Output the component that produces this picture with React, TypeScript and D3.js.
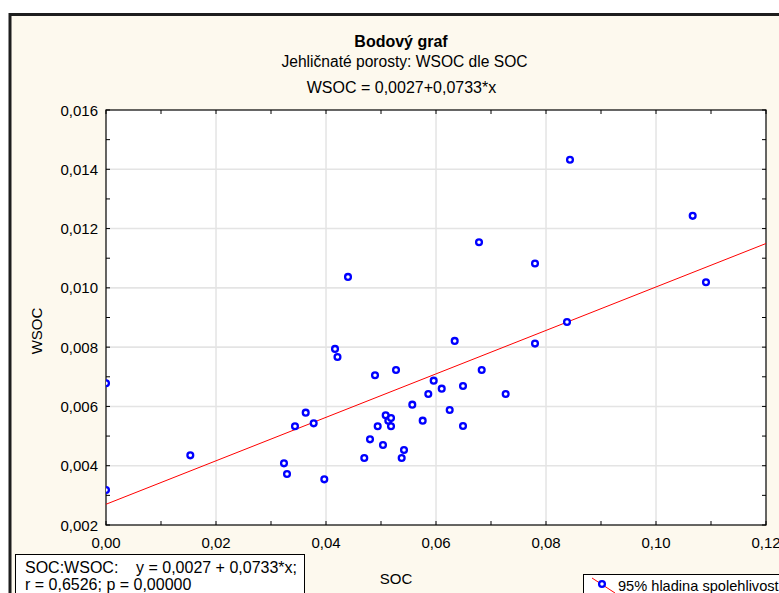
import React from "react";
import * as d3 from "d3";

const socValues: number[] = [
  0, 0, 0.01533, 0.03236, 0.03291, 0.03436, 0.03631, 0.03776, 0.03969, 0.04164,
  0.04209, 0.044, 0.04696, 0.048, 0.04891, 0.0494, 0.05036, 0.05085, 0.05133, 0.05182,
  0.05182, 0.05273, 0.05376, 0.05418, 0.05569, 0.05758, 0.0586, 0.05958, 0.06104, 0.06249,
  0.0634, 0.06491, 0.06491, 0.06782, 0.06831, 0.07267, 0.078, 0.078, 0.08382, 0.08436,
  0.10667, 0.10909,
];
const wsocValues: number[] = [
  0.00678, 0.00318, 0.00435, 0.00408, 0.00372, 0.00533, 0.00579, 0.00543, 0.00354, 0.00794,
  0.00767, 0.01037, 0.00426, 0.00489, 0.00705, 0.00533, 0.0047, 0.0057, 0.00552, 0.00561,
  0.00533, 0.00723, 0.00426, 0.00453, 0.00606, 0.00552, 0.00642, 0.00687, 0.0066, 0.00588,
  0.00821, 0.00669, 0.00534, 0.01154, 0.00723, 0.00642, 0.01082, 0.00812, 0.00885, 0.01432,
  0.01243, 0.01019,
];
const xTicks: number[] = [0, 0.02, 0.04, 0.06, 0.08, 0.1, 0.12];
const yTicks: number[] = [0.002, 0.004, 0.006, 0.008, 0.01, 0.012, 0.014, 0.016];
const intercept = 0.0027;
const slope = 0.0733;

const titleText = "Bodový graf";
const subtitleText = "Jehličnaté porosty: WSOC dle SOC";
const equationText = "WSOC = 0,0027+0,0733*x";
const xLabel = "SOC";
const yLabel = "WSOC";
const statsLabel = "SOC:WSOC:";
const statsEq = "y = 0,0027 + 0,0733*x;";
const statsLine2 = "r = 0,6526; p = 0,00000";
const legendText = "95% hladina spolehlivosti";

const W = 779;
const H = 593;
const L = 106, R = 766, T = 110, B = 525;
const FONT = "'Liberation Sans', Arial, sans-serif";

export default function App() {
  const x = d3.scaleLinear().domain([0, 0.12]).range([L, R]);
  const y = d3.scaleLinear().domain([0.002, 0.016]).range([B, T]);
  const fmtX = (v: number) => d3.format(".2f")(v).replace(".", ",");
  const fmtY = (v: number) => d3.format(".3f")(v).replace(".", ",");
  const xMinor = d3.range(0, 13).map((i) => i * 0.01);
  const yMinor = d3.range(0, 15).map((i) => 0.002 + i * 0.001);
  const line = d3.line<number>().x((d) => x(d)).y((d) => y(intercept + slope * d));
  const pts = socValues.map((s, i) => [s, wsocValues[i]]);

  return (
    <svg
      width={W}
      height={H}
      style={{ position: "absolute", left: 0, top: 0, fontFamily: FONT }}
    >
      <defs>
        <clipPath id="plotclip">
          <rect x={L} y={T} width={R - L} height={B - T} />
        </clipPath>
      </defs>
      <rect x={0} y={0} width={W} height={H} fill="#ffffff" />
      <rect x={10} y={14.5} width={W + 20} height={H + 20} fill="#fdf9ee" stroke="#1e1e1e" strokeWidth={3} />
      <rect x={L} y={T} width={R - L} height={B - T} fill="#ffffff" />
      {/* gridlines */}
      {xTicks.slice(1, -1).map((t) => (
        <line key={"gx" + t} x1={x(t)} x2={x(t)} y1={T} y2={B} stroke="#d6d6d6" strokeWidth={1} />
      ))}
      {yTicks.slice(1, -1).map((t) => (
        <line key={"gy" + t} x1={L} x2={R} y1={y(t)} y2={y(t)} stroke="#e4e4e4" strokeWidth={1.6} />
      ))}
      {/* frame */}
      <rect x={L} y={T} width={R - L} height={B - T} fill="none" stroke="#000" strokeWidth={1.2} />
      {/* ticks */}
      {xMinor.map((t) => (
        <g key={"tx" + t}>
          <line x1={x(t)} x2={x(t)} y1={B} y2={B - 4} stroke="#000" />
          <line x1={x(t)} x2={x(t)} y1={T} y2={T + 4} stroke="#000" />
        </g>
      ))}
      {yMinor.map((t) => (
        <g key={"ty" + t}>
          <line x1={L} x2={L + 4} y1={y(t)} y2={y(t)} stroke="#000" />
          <line x1={R} x2={R - 4} y1={y(t)} y2={y(t)} stroke="#000" />
        </g>
      ))}
      {/* regression line and points */}
      <g clipPath="url(#plotclip)">
        <path d={line([0, 0.12]) || ""} fill="none" stroke="#ff0000" strokeWidth={1} />
        {pts.map((p, i) => (
          <circle key={i} cx={x(p[0])} cy={y(p[1])} r={2.9} fill="#ffffff" stroke="#0000ff" strokeWidth={2.3} />
        ))}
      </g>
      {/* tick labels */}
      {xTicks.map((t) => (
        <text key={"lx" + t} x={x(t)} y={548} fontSize={15} textAnchor="middle" fill="#000">
          {fmtX(t)}
        </text>
      ))}
      {yTicks.map((t) => (
        <text key={"ly" + t} x={98} y={y(t) + 5.5} fontSize={15} textAnchor="end" fill="#000">
          {fmtY(t)}
        </text>
      ))}
      {/* titles */}
      <text x={401} y={47} fontSize={16} fontWeight="bold" textAnchor="middle">{titleText}</text>
      <text x={404.5} y={67} fontSize={15.6} textAnchor="middle">{subtitleText}</text>
      <text x={401.5} y={93} fontSize={16} textAnchor="middle">{equationText}</text>
      <text x={396} y={584} fontSize={15} textAnchor="middle">{xLabel}</text>
      <text transform={`translate(42,331) rotate(-90)`} fontSize={15} textAnchor="middle">{yLabel}</text>
      {/* stats box */}
      <rect x={15.5} y={554.5} width={289} height={60} fill="#ffffff" stroke="#000" strokeWidth={1} />
      <text x={25} y={573} fontSize={16}>{statsLabel}</text>
      <text x={136} y={573} fontSize={16}>{statsEq}</text>
      <text x={25} y={590} fontSize={16}>{statsLine2}</text>
      {/* legend box */}
      <rect x={583.5} y={574.5} width={220} height={40} fill="#ffffff" stroke="#000" strokeWidth={1} />
      <line x1={592} y1={578} x2={615} y2={593} stroke="#ff0000" strokeWidth={1} />
      <circle cx={602} cy={584} r={2.9} fill="#ffffff" stroke="#0000ff" strokeWidth={2.3} />
      <text x={618} y={591} fontSize={14.6}>{legendText}</text>
    </svg>
  );
}
